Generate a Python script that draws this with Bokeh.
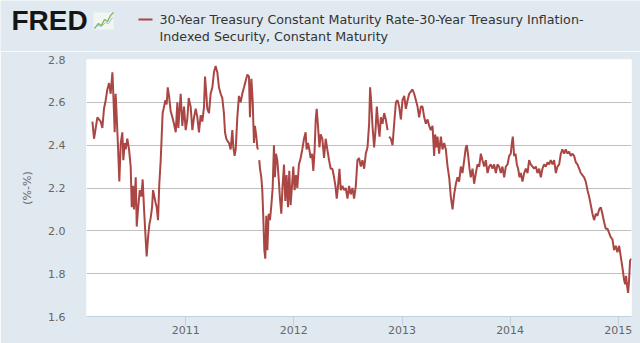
import math
import numpy as np
import pandas as pd
from bokeh.plotting import figure
from bokeh.models import (Range1d, FixedTicker, PrintfTickFormatter,
                          DatetimeTickFormatter, ColumnDataSource)
from bokeh.core.properties import value
from bokeh.embed import file_html
from bokeh.resources import INLINE

NaN = float("nan")

# observation dates as decimal years, and the spread (percentage points)
t_dec = [
    2010.137, 2010.152, 2010.183, 2010.214, 2010.229, 2010.244, 2010.260, 2010.275, 2010.291, 2010.306,
    2010.322, 2010.331, 2010.343, 2010.352, 2010.362, 2010.374, 2010.386, 2010.399, 2010.414, 2010.423,
    2010.436, 2010.445, 2010.460, 2010.476, 2010.491, 2010.501, 2010.513, 2010.522, 2010.538, 2010.547,
    2010.559, 2010.575, 2010.590, 2010.602, 2010.615, 2010.630, 2010.639, 2010.652, 2010.664, 2010.676,
    2010.689, 2010.698, 2010.710, 2010.722, 2010.732, 2010.744, 2010.756, 2010.769, 2010.778, 2010.787,
    2010.800, 2010.812, 2010.824, 2010.834, 2010.846, 2010.861, 2010.877, 2010.892, 2010.908, 2010.923,
    2010.932, 2010.944, 2010.954, 2010.969, 2010.985, 2011.000, 2011.015, 2011.028, 2011.046, 2011.062,
    2011.077, 2011.093, 2011.108, 2011.123, 2011.139, 2011.154, 2011.170, 2011.179, 2011.191, 2011.200,
    2011.216, 2011.231, 2011.247, 2011.262, 2011.277, 2011.293, 2011.308, 2011.324, 2011.339, 2011.354,
    2011.364, 2011.376, 2011.386, 2011.401, 2011.416, 2011.432, 2011.441, 2011.453, 2011.463, 2011.478,
    2011.493,
    2011.509, 2011.524, 2011.540, 2011.555, 2011.571, 2011.586, 2011.595, 2011.608, 2011.620, 2011.632,
    2011.641, 2011.654, 2011.663, 2011.669, 2011.675, 2011.681, 2011.688, 2011.700, 2011.709, 2011.718,
    2011.728, 2011.737, 2011.746, 2011.756, 2011.768, 2011.780, 2011.793, 2011.805, 2011.817, 2011.826,
    2011.836, 2011.848, 2011.860, 2011.873, 2011.885, 2011.897, 2011.910, 2011.922, 2011.934, 2011.947,
    2011.959, 2011.971, 2011.984, 2011.996, 2012.008, 2012.021, 2012.033, 2012.048, 2012.064, 2012.079,
    2012.095, 2012.110, 2012.119, 2012.132, 2012.144, 2012.156, 2012.169, 2012.181, 2012.193, 2012.203,
    2012.212, 2012.224, 2012.237, 2012.249, 2012.264, 2012.280, 2012.295, 2012.310, 2012.326, 2012.341,
    2012.357, 2012.372, 2012.385, 2012.397, 2012.409, 2012.422, 2012.434, 2012.449, 2012.465, 2012.480,
    2012.496, 2012.511, 2012.526, 2012.542, 2012.557, 2012.573, 2012.588, 2012.603, 2012.619, 2012.634,
    2012.650, 2012.665, 2012.681, 2012.696, 2012.705, 2012.714, 2012.727, 2012.742, 2012.755, 2012.767,
    2012.779, 2012.792, 2012.804, 2012.819, 2012.835, 2012.850, 2012.866, 2012.873, 2012.881, 2012.896,
    2012.912, 2012.927, 2012.943, 2012.958, 2012.973, 2012.989, 2013.004, 2013.020, 2013.035, 2013.051,
    2013.066, 2013.081, 2013.097, 2013.112, 2013.128, 2013.143, 2013.158,
    2013.174, 2013.189, 2013.205, 2013.220, 2013.236, 2013.251, 2013.266, 2013.282, 2013.297, 2013.306,
    2013.319, 2013.328, 2013.343, 2013.359, 2013.374, 2013.390, 2013.405, 2013.421, 2013.436, 2013.451,
    2013.467, 2013.482, 2013.498, 2013.513, 2013.528, 2013.544, 2013.559, 2013.575, 2013.590, 2013.599,
    2013.612, 2013.624, 2013.636, 2013.652, 2013.667, 2013.683, 2013.698, 2013.714, 2013.729, 2013.744,
    2013.760, 2013.775, 2013.791, 2013.806, 2013.821, 2013.837, 2013.852, 2013.868, 2013.883, 2013.898,
    2013.914, 2013.929, 2013.945, 2013.960, 2013.976, 2013.991, 2014.006, 2014.016, 2014.025, 2014.037,
    2014.050, 2014.062, 2014.074, 2014.087, 2014.099, 2014.114, 2014.130, 2014.145, 2014.161, 2014.176,
    2014.191, 2014.207, 2014.222, 2014.238, 2014.253, 2014.269, 2014.284, 2014.299, 2014.315, 2014.330,
    2014.346, 2014.361, 2014.376, 2014.392, 2014.407, 2014.423, 2014.438, 2014.454, 2014.469, 2014.484,
    2014.500, 2014.515, 2014.531, 2014.546, 2014.561, 2014.577, 2014.592, 2014.608, 2014.623, 2014.639,
    2014.654, 2014.669, 2014.685, 2014.700, 2014.716, 2014.731, 2014.747, 2014.762, 2014.777, 2014.793,
    2014.808, 2014.824, 2014.839, 2014.854, 2014.870, 2014.885, 2014.901, 2014.916, 2014.932, 2014.947,
    2014.962, 2014.978, 2014.993, 2015.009, 2015.024, 2015.039, 2015.055, 2015.064, 2015.073, 2015.083,
    2015.092, 2015.101, 2015.110, 2015.120,
]

spread = [
    2.51, 2.43, 2.53, 2.51, 2.48, 2.57, 2.61, 2.66, 2.69, 2.64,
    2.74, 2.63, 2.46, 2.64, 2.53, 2.39, 2.23, 2.41, 2.46, 2.33,
    2.41, 2.38, 2.43, 2.38, 2.30, 2.11, 2.21, 2.10, 2.25, 2.02,
    2.10, 2.19, 2.16, 2.24, 2.10, 1.96, 1.88, 1.97, 2.03, 2.06,
    2.11, 2.19, 2.16, 2.13, 2.11, 2.05, 2.22, 2.33, 2.44, 2.55,
    2.58, 2.61, 2.59, 2.67, 2.63, 2.56, 2.53, 2.50, 2.46, 2.60,
    2.48, 2.57, 2.64, 2.49, 2.58, 2.47, 2.52, 2.62, 2.58, 2.47,
    2.53, 2.57, 2.53, 2.46, 2.54, 2.51, 2.58, 2.72, 2.64, 2.57,
    2.55, 2.64, 2.67, 2.74, 2.77, 2.74, 2.67, 2.64, 2.62, 2.55,
    2.46, 2.43, 2.42, 2.41, 2.38, 2.47, 2.39, 2.35, 2.38, 2.53,
    2.63,
    2.60, 2.64, 2.67, 2.70, 2.73, 2.72, 2.53, 2.71, 2.61, 2.41,
    2.49, 2.44, 2.39, 2.38, NaN, 2.33, 2.29, 2.25, 2.19, 2.07,
    1.91, 1.87, 2.07, 1.91, 2.08, 2.05, 2.12, 2.20, 2.40, 2.25,
    2.36, 2.33, 2.25, 2.15, 2.08, 2.21, 2.31, 2.14, 2.26, 2.11,
    2.28, 2.12, 2.21, 2.30, 2.19, 2.26, 2.20, 2.31, 2.34, 2.38,
    2.43, 2.46, 2.38, 2.41, 2.38, 2.34, 2.36, 2.28, 2.38, 2.52,
    2.57, 2.49, 2.39, 2.45, 2.43, 2.34, 2.43, 2.38, 2.33, 2.29,
    2.29, 2.25, 2.21, 2.15, 2.21, 2.29, 2.19, 2.21, 2.19, 2.20,
    2.15, 2.21, 2.17, 2.20, 2.15, 2.21, 2.33, 2.34, 2.30, 2.33,
    2.29, 2.36, 2.39, 2.50, 2.67, 2.61, 2.49, 2.39, 2.47, 2.58,
    2.50, 2.44, 2.53, 2.50, 2.55, 2.52, 2.47, NaN, 2.44, 2.43,
    2.40, 2.50, 2.60, 2.61, 2.58, 2.52, 2.61, 2.63, 2.57, 2.61,
    2.64, 2.65, 2.66, 2.64, 2.61, 2.58, 2.53,
    2.58, 2.58, 2.53, 2.50, 2.52, 2.49, 2.47, 2.49, 2.35, 2.45,
    2.39, 2.44, 2.36, 2.44, 2.38, 2.41, 2.38, 2.30, 2.25, 2.16,
    2.10, 2.17, 2.22, 2.25, 2.23, 2.30, 2.27, 2.33, 2.39, 2.40,
    2.35, 2.29, 2.25, 2.29, 2.22, 2.27, 2.31, 2.30, 2.36, 2.33,
    2.30, 2.33, 2.27, 2.30, 2.31, 2.29, 2.31, 2.27, 2.31, 2.30,
    2.27, 2.30, 2.25, 2.30, 2.31, 2.35, 2.36, 2.41, 2.44, 2.35,
    2.36, 2.31, 2.29, 2.25, 2.27, 2.23, 2.27, 2.29, 2.27, 2.33,
    2.31, 2.30, 2.29, 2.30, 2.27, 2.29, 2.25, 2.29, 2.31, 2.30,
    2.32, 2.31, 2.33, 2.31, 2.33, 2.27, 2.30, 2.31, 2.36, 2.38,
    2.36, 2.38, 2.36, 2.37, 2.35, 2.36, 2.35, 2.32, 2.31, 2.29,
    2.27, 2.26, 2.25, 2.23, 2.19, 2.16, 2.12, 2.08, 2.05, 2.08,
    2.07, 2.10, 2.11, 2.08, 2.04, 2.01, 2.01, 1.99, 1.97, 1.96,
    1.91, 1.93, 1.90, 1.93, 1.88, 1.83, 1.77, 1.75, 1.79, 1.74,
    1.71, 1.77, 1.86, 1.87,
]

y_ticks = [1.6, 1.8, 2.0, 2.2, 2.4, 2.6, 2.8]
x_tick_years = [2011, 2012, 2013, 2014, 2015]
legend_lines = ["30-Year Treasury Constant Maturity Rate-30-Year Treasury Inflation-",
                "Indexed Security, Constant Maturity"]
y_label = "(%-%)"
logo_text = "FRED"

BG = "#E1E9F0"
LINE = "#AA4643"


def to_ts(t):
    y = int(math.floor(t))
    a = pd.Timestamp(year=y, month=1, day=1)
    b = pd.Timestamp(year=y + 1, month=1, day=1)
    return a + (b - a) * (t - y)


dates = pd.DatetimeIndex([to_ts(t) for t in t_dec])
src = ColumnDataSource(dict(date=dates.values, v=np.array(spread, dtype=float)))

# ---------------- header strip (pixel-like coordinates, y downwards) ----------------
HEAD_H = 51
head = figure(width=640, height=HEAD_H, output_backend="svg", toolbar_location=None,
              x_range=Range1d(0, 640), y_range=Range1d(HEAD_H, 0),
              min_border=0, min_border_left=0, min_border_right=0,
              min_border_top=0, min_border_bottom=0)
head.axis.visible = False
head.grid.visible = False
head.outline_line_color = None
head.background_fill_color = BG
head.border_fill_color = BG

head.text(x=[11], y=[20], text=[logo_text], text_font=value("Liberation Sans"),
          text_font_style="bold", text_font_size=value("28px"),
          text_color="#151515", text_baseline="middle")
# small chart icon next to the logo
head.quad(left=[93], right=[113], top=[12], bottom=[29], fill_color="#f2f6f0",
          line_color=None)
head.line(x=[94, 98, 101, 104, 107, 110, 113], y=[28, 23, 25, 19, 21, 15, 12],
          line_color="#7DB85B", line_width=1.4)
head.line(x=[94, 98, 101, 105, 108, 112], y=[27, 25, 26, 22, 23, 17],
          line_color="#9DB9D8", line_width=1)
# legend swatch and text
head.segment(x0=[138], y0=[19], x1=[152], y1=[19], line_color=LINE, line_width=2)
head.text(x=[159, 159], y=[19, 36], text=legend_lines, text_font=value("DejaVu Sans"),
          text_font_size=value("12.7px"), text_color="#333333", text_baseline="middle")

# ---------------- main chart ----------------
p = figure(width=640, height=343 - HEAD_H, x_axis_type="datetime",
           output_backend="svg", toolbar_location=None,
           x_range=Range1d(pd.Timestamp("2010-01-31"), pd.Timestamp("2015-02-15")),
           y_range=Range1d(1.6, 2.8),
           min_border_left=86, min_border_right=9,
           min_border_top=59 - HEAD_H, min_border_bottom=27)

p.line("date", "v", source=src, line_color=LINE, line_width=2)

p.background_fill_color = "white"
p.border_fill_color = BG
p.outline_line_color = None

# y axis
yt = FixedTicker(ticks=y_ticks)
p.yaxis.ticker = yt
p.ygrid.ticker = yt
p.yaxis.formatter = PrintfTickFormatter(format="%.1f")
p.yaxis.axis_line_color = None
p.yaxis.major_tick_line_color = None
p.yaxis.minor_tick_line_color = None
p.yaxis.major_label_standoff = 15
p.yaxis.major_label_text_font = "DejaVu Sans"
p.yaxis.major_label_text_font_size = "11px"
p.yaxis.major_label_text_color = "#666666"
p.yaxis.axis_label = y_label
p.yaxis.axis_label_standoff = 11
p.yaxis.axis_label_text_font = "DejaVu Sans"
p.yaxis.axis_label_text_font_size = "11px"
p.yaxis.axis_label_text_font_style = "normal"
p.yaxis.axis_label_text_color = "#666666"
p.ygrid.grid_line_color = "#C0C0C0"
p.ygrid.grid_line_width = 1
p.xgrid.visible = False

# x axis
xt = FixedTicker(ticks=[pd.Timestamp(year=y, month=1, day=1).value / 1e6 for y in x_tick_years])
p.xaxis.ticker = xt
p.xaxis.formatter = DatetimeTickFormatter(years="%Y", months="%Y", days="%Y",
                                          hours="%Y", hourmin="%Y", minutes="%Y")
p.xaxis.axis_line_color = "#C0D0E0"
p.xaxis.major_tick_line_color = "#C0D0E0"
p.xaxis.major_tick_in = 0
p.xaxis.major_tick_out = 9
p.xaxis.minor_tick_line_color = None
p.xaxis.major_label_standoff = 0
p.xaxis.major_label_text_font = "DejaVu Sans"
p.xaxis.major_label_text_font_size = "11px"
p.xaxis.major_label_text_color = "#666666"

# two separate roots stacked in the page, so the header keeps its own frame
open("out.html", "w").write(file_html([head, p], INLINE))
